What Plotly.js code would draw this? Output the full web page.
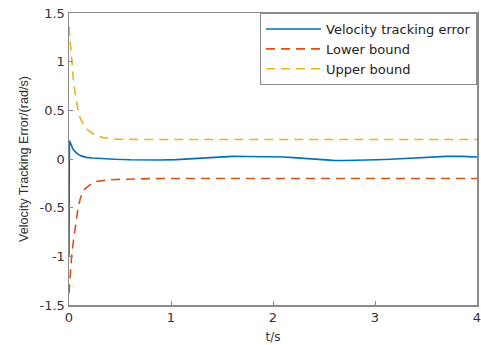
<!DOCTYPE html>
<html>
<head>
<meta charset="utf-8">
<script src="https://cdn.plot.ly/plotly-3.0.1.min.js"></script>
<style>html,body{margin:0;padding:0;background:#fff;}#chart{width:481px;height:345px;}</style>
</head>
<body>
<div id="chart"></div>
<script>
// Velocity tracking error
var tErr = [0, 0.004, 0.02, 0.04, 0.06, 0.088, 0.12, 0.17, 0.23, 0.3, 0.45, 0.6, 0.75, 0.9, 1.05, 1.2, 1.35, 1.48, 1.6, 1.75, 1.94, 2.1, 2.2, 2.33, 2.45, 2.59, 2.7, 2.85, 3.02, 3.15, 3.3, 3.45, 3.57, 3.7, 3.85, 4.0];
var err  = [-1.0, 0.19, 0.15, 0.10, 0.075, 0.05, 0.032, 0.017, 0.01, 0.005, -0.003, -0.008, -0.01, -0.01, -0.006, 0.004, 0.015, 0.024, 0.027, 0.025, 0.024, 0.02, 0.014, 0.004, -0.006, -0.014, -0.016, -0.014, -0.008, -0.002, 0.008, 0.017, 0.023, 0.027, 0.027, 0.02];
// Bounds
var tBound = [0, 0.012, 0.024, 0.04, 0.056, 0.072, 0.089, 0.11, 0.138, 0.165, 0.19, 0.236, 0.28, 0.334, 0.4, 0.465, 0.55, 0.63, 0.8, 1, 2, 3, 4];
var upper  = [1.36, 1.18, 1.02, 0.85, 0.71, 0.60, 0.50, 0.42, 0.36, 0.32, 0.295, 0.26, 0.238, 0.22, 0.21, 0.204, 0.202, 0.2, 0.2, 0.2, 0.2, 0.2, 0.2];
var lower  = [-1.38, -1.19, -1.02, -0.87, -0.74, -0.61, -0.50, -0.41, -0.33, -0.30, -0.28, -0.24, -0.228, -0.22, -0.214, -0.21, -0.207, -0.205, -0.202, -0.2, -0.2, -0.2, -0.2];
// Ticks
var xTicks = [0, 1, 2, 3, 4];
var yTicks = [-1.5, -1, -0.5, 0, 0.5, 1, 1.5];
var yTickText = ['-1.5', '-1', '-0.5', '0', '0.5', '1', '1.5'];
var names = ['Velocity tracking error', 'Lower bound', 'Upper bound'];

var wideFont = 'DejaVu Sans, Verdana, sans-serif';
var traces = [
  {x: tErr, y: err, mode: 'lines', name: names[0], line: {color: '#0072BD', width: 1.6}},
  {x: tBound, y: lower, mode: 'lines', name: names[1], line: {color: '#D95319', width: 1.6, dash: '9px,6px'}},
  {x: tBound, y: upper, mode: 'lines', name: names[2], line: {color: '#EDB120', width: 1.6, dash: '9px,6px'}}
];
var axisCommon = {
  showline: true, mirror: true, linecolor: '#8a8a8a', linewidth: 1.5,
  ticks: 'inside', ticklen: 4, tickcolor: '#8a8a8a', tickwidth: 1,
  showgrid: false, zeroline: false, ticklabeloverflow: 'allow',
  tickfont: {family: wideFont, size: 13, color: '#333'}
};
var layout = {
  width: 481, height: 345,
  margin: {l: 69, r: 4, t: 13, b: 40},
  paper_bgcolor: '#fff', plot_bgcolor: '#fff',
  showlegend: true,
  legend: {x: 1, xanchor: 'right', y: 1, yanchor: 'top', bgcolor: '#fff', bordercolor: '#8a8a8a', borderwidth: 1,
           itemwidth: 55, font: {family: wideFont, size: 13, color: '#222'}, tracegroupgap: 0},
  xaxis: Object.assign({}, axisCommon, {range: [0, 4], tickvals: xTicks, ticktext: xTicks.map(String),
    title: {text: 't/s', standoff: 8, font: {family: wideFont, size: 12, color: '#333'}}}),
  yaxis: Object.assign({}, axisCommon, {range: [-1.5, 1.5], tickvals: yTicks, ticktext: yTickText,
    title: {text: 'Velocity Tracking Error/(rad/s)', standoff: 8, font: {family: 'Liberation Sans, Arial, sans-serif', size: 12.6, color: '#333'}}})
};
Plotly.newPlot('chart', traces, layout, {displayModeBar: false, staticPlot: true});
</script>
</body>
</html>
